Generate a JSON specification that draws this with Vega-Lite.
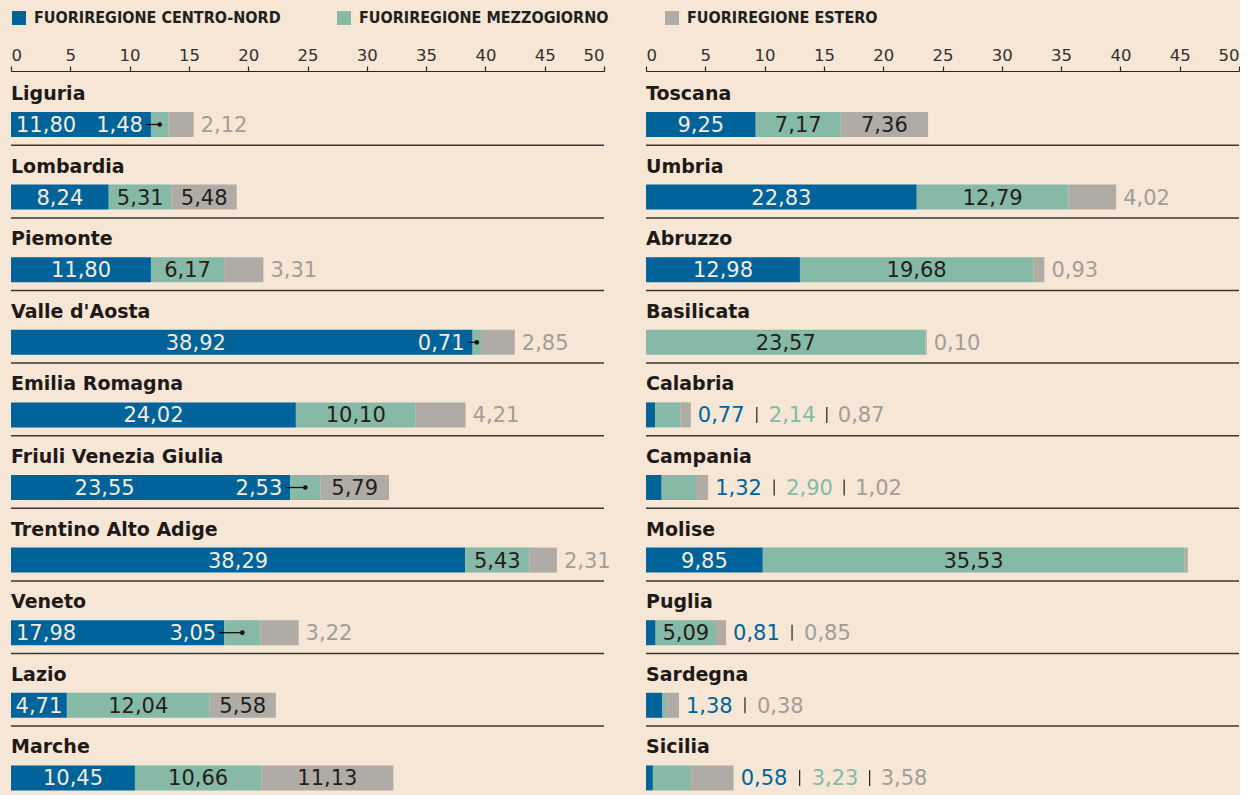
{
  "$schema": "https://vega.github.io/schema/vega-lite/v6.json",
  "background": "#f5e6d6",
  "padding": {"left": 10, "top": 10, "right": 0, "bottom": 0},
  "spacing": 42,
  "bounds": "flush",
  "config": {
    "view": {"stroke": null},
    "legend": {
      "orient": "top", "direction": "horizontal", "title": null,
      "symbolType": "square", "symbolSize": 196, "symbolStrokeWidth": 0, "symbolOpacity": 1,
      "labelFont": "DejaVu Sans Condensed", "labelFontSize": 16, "labelFontWeight": "bold", "labelColor": "#231f1c",
      "labelOffset": 7, "columnPadding": 55, "offset": 21, "padding": 0, "labelLimit": 0
    },
    "axis": {
      "labelFont": "DejaVu Sans", "labelFontSize": 16.5, "labelFontWeight": "normal", "labelColor": "#35302c",
      "domainColor": "#2a2522", "tickColor": "#2a2522", "domainWidth": 1.2, "tickWidth": 1.2, "tickSize": 5,
      "labelPadding": 3, "grid": false
    },
    "text": {"font": "DejaVu Sans", "fontSize": 21, "fontWeight": "normal"}
  },
  "datasets": {
    "segs": [
      {"panel": "L", "region": "Liguria", "serie": "FUORIREGIONE CENTRO-NORD", "k": 1, "value": 11.80, "lab": "11,80", "place": "start"},
      {"panel": "L", "region": "Liguria", "serie": "FUORIREGIONE MEZZOGIORNO", "k": 2, "value": 1.48, "lab": "1,48", "place": "lead"},
      {"panel": "L", "region": "Liguria", "serie": "FUORIREGIONE ESTERO", "k": 3, "value": 2.12, "lab": "2,12", "place": "out1"},
      {"panel": "L", "region": "Lombardia", "serie": "FUORIREGIONE CENTRO-NORD", "k": 1, "value": 8.24, "lab": "8,24", "place": "mid"},
      {"panel": "L", "region": "Lombardia", "serie": "FUORIREGIONE MEZZOGIORNO", "k": 2, "value": 5.31, "lab": "5,31", "place": "mid"},
      {"panel": "L", "region": "Lombardia", "serie": "FUORIREGIONE ESTERO", "k": 3, "value": 5.48, "lab": "5,48", "place": "mid"},
      {"panel": "L", "region": "Piemonte", "serie": "FUORIREGIONE CENTRO-NORD", "k": 1, "value": 11.80, "lab": "11,80", "place": "mid"},
      {"panel": "L", "region": "Piemonte", "serie": "FUORIREGIONE MEZZOGIORNO", "k": 2, "value": 6.17, "lab": "6,17", "place": "mid"},
      {"panel": "L", "region": "Piemonte", "serie": "FUORIREGIONE ESTERO", "k": 3, "value": 3.31, "lab": "3,31", "place": "out1"},
      {"panel": "L", "region": "Valle d'Aosta", "serie": "FUORIREGIONE CENTRO-NORD", "k": 1, "value": 38.92, "lab": "38,92", "place": "midL"},
      {"panel": "L", "region": "Valle d'Aosta", "serie": "FUORIREGIONE MEZZOGIORNO", "k": 2, "value": 0.71, "lab": "0,71", "place": "lead"},
      {"panel": "L", "region": "Valle d'Aosta", "serie": "FUORIREGIONE ESTERO", "k": 3, "value": 2.85, "lab": "2,85", "place": "out1"},
      {"panel": "L", "region": "Emilia Romagna", "serie": "FUORIREGIONE CENTRO-NORD", "k": 1, "value": 24.02, "lab": "24,02", "place": "mid"},
      {"panel": "L", "region": "Emilia Romagna", "serie": "FUORIREGIONE MEZZOGIORNO", "k": 2, "value": 10.10, "lab": "10,10", "place": "mid"},
      {"panel": "L", "region": "Emilia Romagna", "serie": "FUORIREGIONE ESTERO", "k": 3, "value": 4.21, "lab": "4,21", "place": "out1"},
      {"panel": "L", "region": "Friuli Venezia Giulia", "serie": "FUORIREGIONE CENTRO-NORD", "k": 1, "value": 23.55, "lab": "23,55", "place": "midL"},
      {"panel": "L", "region": "Friuli Venezia Giulia", "serie": "FUORIREGIONE MEZZOGIORNO", "k": 2, "value": 2.53, "lab": "2,53", "place": "lead"},
      {"panel": "L", "region": "Friuli Venezia Giulia", "serie": "FUORIREGIONE ESTERO", "k": 3, "value": 5.79, "lab": "5,79", "place": "mid"},
      {"panel": "L", "region": "Trentino Alto Adige", "serie": "FUORIREGIONE CENTRO-NORD", "k": 1, "value": 38.29, "lab": "38,29", "place": "mid"},
      {"panel": "L", "region": "Trentino Alto Adige", "serie": "FUORIREGIONE MEZZOGIORNO", "k": 2, "value": 5.43, "lab": "5,43", "place": "mid"},
      {"panel": "L", "region": "Trentino Alto Adige", "serie": "FUORIREGIONE ESTERO", "k": 3, "value": 2.31, "lab": "2,31", "place": "out1"},
      {"panel": "L", "region": "Veneto", "serie": "FUORIREGIONE CENTRO-NORD", "k": 1, "value": 17.98, "lab": "17,98", "place": "start"},
      {"panel": "L", "region": "Veneto", "serie": "FUORIREGIONE MEZZOGIORNO", "k": 2, "value": 3.05, "lab": "3,05", "place": "lead"},
      {"panel": "L", "region": "Veneto", "serie": "FUORIREGIONE ESTERO", "k": 3, "value": 3.22, "lab": "3,22", "place": "out1"},
      {"panel": "L", "region": "Lazio", "serie": "FUORIREGIONE CENTRO-NORD", "k": 1, "value": 4.71, "lab": "4,71", "place": "mid"},
      {"panel": "L", "region": "Lazio", "serie": "FUORIREGIONE MEZZOGIORNO", "k": 2, "value": 12.04, "lab": "12,04", "place": "mid"},
      {"panel": "L", "region": "Lazio", "serie": "FUORIREGIONE ESTERO", "k": 3, "value": 5.58, "lab": "5,58", "place": "mid"},
      {"panel": "L", "region": "Marche", "serie": "FUORIREGIONE CENTRO-NORD", "k": 1, "value": 10.45, "lab": "10,45", "place": "mid"},
      {"panel": "L", "region": "Marche", "serie": "FUORIREGIONE MEZZOGIORNO", "k": 2, "value": 10.66, "lab": "10,66", "place": "mid"},
      {"panel": "L", "region": "Marche", "serie": "FUORIREGIONE ESTERO", "k": 3, "value": 11.13, "lab": "11,13", "place": "mid"},
      {"panel": "R", "region": "Toscana", "serie": "FUORIREGIONE CENTRO-NORD", "k": 1, "value": 9.25, "lab": "9,25", "place": "mid"},
      {"panel": "R", "region": "Toscana", "serie": "FUORIREGIONE MEZZOGIORNO", "k": 2, "value": 7.17, "lab": "7,17", "place": "mid"},
      {"panel": "R", "region": "Toscana", "serie": "FUORIREGIONE ESTERO", "k": 3, "value": 7.36, "lab": "7,36", "place": "mid"},
      {"panel": "R", "region": "Umbria", "serie": "FUORIREGIONE CENTRO-NORD", "k": 1, "value": 22.83, "lab": "22,83", "place": "mid"},
      {"panel": "R", "region": "Umbria", "serie": "FUORIREGIONE MEZZOGIORNO", "k": 2, "value": 12.79, "lab": "12,79", "place": "mid"},
      {"panel": "R", "region": "Umbria", "serie": "FUORIREGIONE ESTERO", "k": 3, "value": 4.02, "lab": "4,02", "place": "out1"},
      {"panel": "R", "region": "Abruzzo", "serie": "FUORIREGIONE CENTRO-NORD", "k": 1, "value": 12.98, "lab": "12,98", "place": "mid"},
      {"panel": "R", "region": "Abruzzo", "serie": "FUORIREGIONE MEZZOGIORNO", "k": 2, "value": 19.68, "lab": "19,68", "place": "mid"},
      {"panel": "R", "region": "Abruzzo", "serie": "FUORIREGIONE ESTERO", "k": 3, "value": 0.93, "lab": "0,93", "place": "out1"},
      {"panel": "R", "region": "Basilicata", "serie": "FUORIREGIONE MEZZOGIORNO", "k": 2, "value": 23.57, "lab": "23,57", "place": "mid"},
      {"panel": "R", "region": "Basilicata", "serie": "FUORIREGIONE ESTERO", "k": 3, "value": 0.10, "lab": "0,10", "place": "out1"},
      {"panel": "R", "region": "Calabria", "serie": "FUORIREGIONE CENTRO-NORD", "k": 1, "value": 0.77, "lab": "0,77", "place": "out1"},
      {"panel": "R", "region": "Calabria", "serie": "FUORIREGIONE MEZZOGIORNO", "k": 2, "value": 2.14, "lab": "2,14", "place": "out2"},
      {"panel": "R", "region": "Calabria", "serie": "FUORIREGIONE ESTERO", "k": 3, "value": 0.87, "lab": "0,87", "place": "out3"},
      {"panel": "R", "region": "Campania", "serie": "FUORIREGIONE CENTRO-NORD", "k": 1, "value": 1.32, "lab": "1,32", "place": "out1"},
      {"panel": "R", "region": "Campania", "serie": "FUORIREGIONE MEZZOGIORNO", "k": 2, "value": 2.90, "lab": "2,90", "place": "out2"},
      {"panel": "R", "region": "Campania", "serie": "FUORIREGIONE ESTERO", "k": 3, "value": 1.02, "lab": "1,02", "place": "out3"},
      {"panel": "R", "region": "Molise", "serie": "FUORIREGIONE CENTRO-NORD", "k": 1, "value": 9.85, "lab": "9,85", "place": "mid"},
      {"panel": "R", "region": "Molise", "serie": "FUORIREGIONE MEZZOGIORNO", "k": 2, "value": 35.53, "lab": "35,53", "place": "mid"},
      {"panel": "R", "region": "Molise", "serie": "FUORIREGIONE ESTERO", "k": 3, "value": 0.3, "lab": "", "place": "none"},
      {"panel": "R", "region": "Puglia", "serie": "FUORIREGIONE CENTRO-NORD", "k": 1, "value": 0.81, "lab": "0,81", "place": "out1"},
      {"panel": "R", "region": "Puglia", "serie": "FUORIREGIONE MEZZOGIORNO", "k": 2, "value": 5.09, "lab": "5,09", "place": "mid"},
      {"panel": "R", "region": "Puglia", "serie": "FUORIREGIONE ESTERO", "k": 3, "value": 0.85, "lab": "0,85", "place": "out2"},
      {"panel": "R", "region": "Sardegna", "serie": "FUORIREGIONE CENTRO-NORD", "k": 1, "value": 1.38, "lab": "1,38", "place": "out1"},
      {"panel": "R", "region": "Sardegna", "serie": "FUORIREGIONE MEZZOGIORNO", "k": 2, "value": 0.3, "lab": "", "place": "none"},
      {"panel": "R", "region": "Sardegna", "serie": "FUORIREGIONE ESTERO", "k": 3, "value": 1.1, "lab": "0,38", "place": "out2"},
      {"panel": "R", "region": "Sicilia", "serie": "FUORIREGIONE CENTRO-NORD", "k": 1, "value": 0.58, "lab": "0,58", "place": "out1"},
      {"panel": "R", "region": "Sicilia", "serie": "FUORIREGIONE MEZZOGIORNO", "k": 2, "value": 3.23, "lab": "3,23", "place": "out2"},
      {"panel": "R", "region": "Sicilia", "serie": "FUORIREGIONE ESTERO", "k": 3, "value": 3.58, "lab": "3,58", "place": "out3"}
    ]
  },
  "data": {"name": "segs"},
  "hconcat": [
    {
      "width": 593, "height": 726,
      "transform": [
        {"filter": "datum.panel == 'L'"},
        {"stack": "value", "groupby": ["region"], "sort": [{"field": "k", "order": "ascending"}], "as": ["x0", "x1"]},
        {"joinaggregate": [{"op": "sum", "field": "value", "as": "tot"}], "groupby": ["region"]},
        {"calculate": "(datum.x0 + datum.x1) / 2", "as": "mid"}
      ],
      "encoding": {
        "y": {"field": "region", "type": "nominal", "sort": ["Liguria", "Lombardia", "Piemonte", "Valle d'Aosta", "Emilia Romagna", "Friuli Venezia Giulia", "Trentino Alto Adige", "Veneto", "Lazio", "Marche"], "scale": {"paddingInner": 0, "paddingOuter": 0}, "axis": null}
      },
      "layer": [
        {"mark": {"type": "bar", "size": 25, "yOffset": 15.2},
         "encoding": {
           "x": {"field": "x0", "type": "quantitative", "scale": {"domain": [0, 50], "nice": false, "zero": true}, "axis": {"orient": "top", "values": [0, 5, 10, 15, 20, 25, 30, 35, 40, 45, 50], "labelFlush": true, "title": null, "offset": 2}},
           "x2": {"field": "x1"},
           "color": {"field": "serie", "type": "nominal", "scale": {"domain": ["FUORIREGIONE CENTRO-NORD", "FUORIREGIONE MEZZOGIORNO", "FUORIREGIONE ESTERO"], "range": ["#00649b", "#86b9a6", "#b0aca5"]}}
         }},
        {"mark": {"type": "rule", "color": "#3a3531", "strokeWidth": 1.5, "yOffset": 36},
         "transform": [{"filter": "datum.k == 3"}],
         "encoding": {"x": {"datum": 0, "type": "quantitative", "axis": {"orient": "top", "values": [0, 5, 10, 15, 20, 25, 30, 35, 40, 45, 50], "labelFlush": true, "title": null, "offset": 2}}, "x2": {"datum": 50}}},
        {"mark": {"type": "text", "align": "left", "baseline": "alphabetic", "yOffset": -9.3, "font": "DejaVu Sans", "fontSize": 19, "fontWeight": "bold", "color": "#1f1a17"},
         "transform": [{"filter": "datum.k == 3"}],
         "encoding": {"x": {"datum": 0, "type": "quantitative", "axis": {"orient": "top", "values": [0, 5, 10, 15, 20, 25, 30, 35, 40, 45, 50], "labelFlush": true, "title": null, "offset": 2}}, "text": {"field": "region"}}},
        {"mark": {"type": "text", "align": "center", "baseline": "alphabetic", "yOffset": 22.7},
         "transform": [{"filter": "datum.place == 'mid'"}],
         "encoding": {"x": {"field": "mid", "type": "quantitative", "axis": {"orient": "top", "values": [0, 5, 10, 15, 20, 25, 30, 35, 40, 45, 50], "labelFlush": true, "title": null, "offset": 2}}, "text": {"field": "lab"},
           "color": {"condition": {"test": "datum.k == 1", "value": "#f5ebdf"}, "value": "#231f1c"}}},
        {"mark": {"type": "text", "align": "center", "baseline": "alphabetic", "yOffset": 22.7, "dx": -46, "color": "#f5ebdf"},
         "transform": [{"filter": "datum.place == 'midL'"}],
         "encoding": {"x": {"field": "mid", "type": "quantitative", "axis": {"orient": "top", "values": [0, 5, 10, 15, 20, 25, 30, 35, 40, 45, 50], "labelFlush": true, "title": null, "offset": 2}}, "text": {"field": "lab"}}},
        {"mark": {"type": "text", "align": "left", "baseline": "alphabetic", "yOffset": 22.7, "dx": 5, "color": "#f5ebdf"},
         "transform": [{"filter": "datum.place == 'start'"}],
         "encoding": {"x": {"field": "x0", "type": "quantitative", "axis": {"orient": "top", "values": [0, 5, 10, 15, 20, 25, 30, 35, 40, 45, 50], "labelFlush": true, "title": null, "offset": 2}}, "text": {"field": "lab"}}},
        {"mark": {"type": "text", "align": "right", "baseline": "alphabetic", "yOffset": 22.7, "dx": -8, "color": "#f5ebdf"},
         "transform": [{"filter": "datum.place == 'lead'"}],
         "encoding": {"x": {"field": "x0", "type": "quantitative", "axis": {"orient": "top", "values": [0, 5, 10, 15, 20, 25, 30, 35, 40, 45, 50], "labelFlush": true, "title": null, "offset": 2}}, "text": {"field": "lab"}}},
        {"mark": {"type": "rule", "color": "#151210", "strokeWidth": 1.3, "yOffset": 15.2, "xOffset": -5},
         "transform": [{"filter": "datum.place == 'lead'"}],
         "encoding": {"x": {"field": "x0", "type": "quantitative", "axis": {"orient": "top", "values": [0, 5, 10, 15, 20, 25, 30, 35, 40, 45, 50], "labelFlush": true, "title": null, "offset": 2}}, "x2": {"field": "mid"}}},
        {"mark": {"type": "point", "filled": true, "size": 22, "opacity": 1, "color": "#151210", "yOffset": 15.2},
         "transform": [{"filter": "datum.place == 'lead'"}],
         "encoding": {"x": {"field": "mid", "type": "quantitative", "axis": {"orient": "top", "values": [0, 5, 10, 15, 20, 25, 30, 35, 40, 45, 50], "labelFlush": true, "title": null, "offset": 2}}}},
        {"mark": {"type": "text", "align": "left", "baseline": "alphabetic", "yOffset": 22.7, "dx": 7},
         "transform": [{"filter": "datum.place == 'out1'"}],
         "encoding": {"x": {"field": "tot", "type": "quantitative", "axis": {"orient": "top", "values": [0, 5, 10, 15, 20, 25, 30, 35, 40, 45, 50], "labelFlush": true, "title": null, "offset": 2}}, "text": {"field": "lab"},
           "color": {"condition": [{"test": "datum.k == 1", "value": "#00649b"}, {"test": "datum.k == 2", "value": "#86b9a6"}], "value": "#a29d97"}}}
      ]
    },
    {
      "width": 593, "height": 726,
      "transform": [
        {"filter": "datum.panel == 'R'"},
        {"stack": "value", "groupby": ["region"], "sort": [{"field": "k", "order": "ascending"}], "as": ["x0", "x1"]},
        {"joinaggregate": [{"op": "sum", "field": "value", "as": "tot"}], "groupby": ["region"]},
        {"calculate": "(datum.x0 + datum.x1) / 2", "as": "mid"}
      ],
      "encoding": {
        "y": {"field": "region", "type": "nominal", "sort": ["Toscana", "Umbria", "Abruzzo", "Basilicata", "Calabria", "Campania", "Molise", "Puglia", "Sardegna", "Sicilia"], "scale": {"paddingInner": 0, "paddingOuter": 0}, "axis": null}
      },
      "layer": [
        {"mark": {"type": "bar", "size": 25, "yOffset": 15.2},
         "encoding": {
           "x": {"field": "x0", "type": "quantitative", "scale": {"domain": [0, 50], "nice": false, "zero": true}, "axis": {"orient": "top", "values": [0, 5, 10, 15, 20, 25, 30, 35, 40, 45, 50], "labelFlush": true, "title": null, "offset": 2}},
           "x2": {"field": "x1"},
           "color": {"field": "serie", "type": "nominal", "scale": {"domain": ["FUORIREGIONE CENTRO-NORD", "FUORIREGIONE MEZZOGIORNO", "FUORIREGIONE ESTERO"], "range": ["#00649b", "#86b9a6", "#b0aca5"]}}
         }},
        {"mark": {"type": "rule", "color": "#3a3531", "strokeWidth": 1.5, "yOffset": 36},
         "transform": [{"filter": "datum.k == 3"}],
         "encoding": {"x": {"datum": 0, "type": "quantitative", "axis": {"orient": "top", "values": [0, 5, 10, 15, 20, 25, 30, 35, 40, 45, 50], "labelFlush": true, "title": null, "offset": 2}}, "x2": {"datum": 50}}},
        {"mark": {"type": "text", "align": "left", "baseline": "alphabetic", "yOffset": -9.3, "font": "DejaVu Sans", "fontSize": 19, "fontWeight": "bold", "color": "#1f1a17"},
         "transform": [{"filter": "datum.k == 3"}],
         "encoding": {"x": {"datum": 0, "type": "quantitative", "axis": {"orient": "top", "values": [0, 5, 10, 15, 20, 25, 30, 35, 40, 45, 50], "labelFlush": true, "title": null, "offset": 2}}, "text": {"field": "region"}}},
        {"mark": {"type": "text", "align": "center", "baseline": "alphabetic", "yOffset": 22.7},
         "transform": [{"filter": "datum.place == 'mid'"}],
         "encoding": {"x": {"field": "mid", "type": "quantitative", "axis": {"orient": "top", "values": [0, 5, 10, 15, 20, 25, 30, 35, 40, 45, 50], "labelFlush": true, "title": null, "offset": 2}}, "text": {"field": "lab"},
           "color": {"condition": {"test": "datum.k == 1", "value": "#f5ebdf"}, "value": "#231f1c"}}},
        {"mark": {"type": "text", "align": "left", "baseline": "alphabetic", "yOffset": 22.7, "dx": 7},
         "transform": [{"filter": "datum.place == 'out1'"}],
         "encoding": {"x": {"field": "tot", "type": "quantitative", "axis": {"orient": "top", "values": [0, 5, 10, 15, 20, 25, 30, 35, 40, 45, 50], "labelFlush": true, "title": null, "offset": 2}}, "text": {"field": "lab"},
           "color": {"condition": [{"test": "datum.k == 1", "value": "#00649b"}, {"test": "datum.k == 2", "value": "#86b9a6"}], "value": "#a29d97"}}},
        {"mark": {"type": "text", "align": "left", "baseline": "alphabetic", "yOffset": 22.7, "dx": 78},
         "transform": [{"filter": "datum.place == 'out2'"}],
         "encoding": {"x": {"field": "tot", "type": "quantitative", "axis": {"orient": "top", "values": [0, 5, 10, 15, 20, 25, 30, 35, 40, 45, 50], "labelFlush": true, "title": null, "offset": 2}}, "text": {"field": "lab"},
           "color": {"condition": [{"test": "datum.k == 1", "value": "#00649b"}, {"test": "datum.k == 2", "value": "#86b9a6"}], "value": "#a29d97"}}},
        {"mark": {"type": "text", "align": "left", "baseline": "alphabetic", "yOffset": 22.7, "dx": 147},
         "transform": [{"filter": "datum.place == 'out3'"}],
         "encoding": {"x": {"field": "tot", "type": "quantitative", "axis": {"orient": "top", "values": [0, 5, 10, 15, 20, 25, 30, 35, 40, 45, 50], "labelFlush": true, "title": null, "offset": 2}}, "text": {"field": "lab"},
           "color": {"condition": [{"test": "datum.k == 1", "value": "#00649b"}, {"test": "datum.k == 2", "value": "#86b9a6"}], "value": "#a29d97"}}},
        {"mark": {"type": "tick", "orient": "vertical", "size": 16, "thickness": 1.2, "opacity": 1, "color": "#231f1c", "xOffset": 66, "yOffset": 15.2},
         "transform": [{"filter": "datum.place == 'out2'"}],
         "encoding": {"x": {"field": "tot", "type": "quantitative", "axis": {"orient": "top", "values": [0, 5, 10, 15, 20, 25, 30, 35, 40, 45, 50], "labelFlush": true, "title": null, "offset": 2}}}},
        {"mark": {"type": "tick", "orient": "vertical", "size": 16, "thickness": 1.2, "opacity": 1, "color": "#231f1c", "xOffset": 136, "yOffset": 15.2},
         "transform": [{"filter": "datum.place == 'out3'"}],
         "encoding": {"x": {"field": "tot", "type": "quantitative", "axis": {"orient": "top", "values": [0, 5, 10, 15, 20, 25, 30, 35, 40, 45, 50], "labelFlush": true, "title": null, "offset": 2}}}}
      ]
    }
  ]
}
